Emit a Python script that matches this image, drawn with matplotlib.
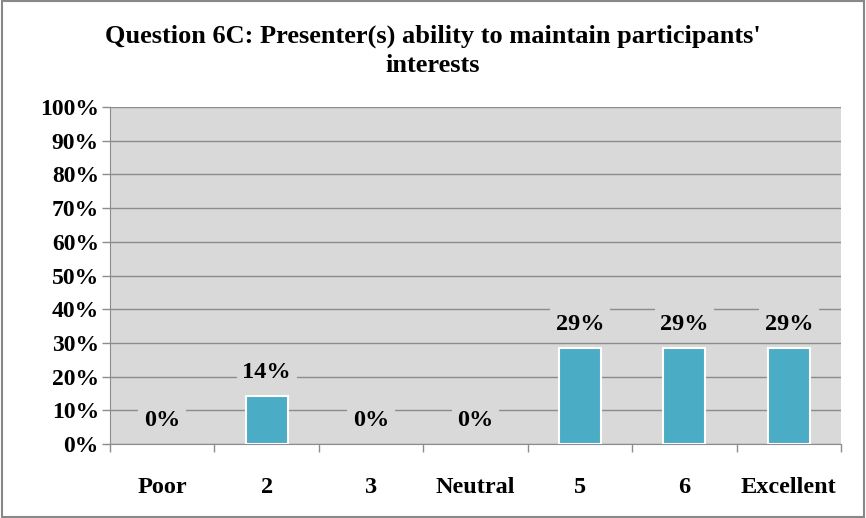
import matplotlib
matplotlib.use("Agg")
import matplotlib.pyplot as plt
from matplotlib.patches import Rectangle
import numpy as np

categories = ["Poor", "2", "3", "Neutral", "5", "6", "Excellent"]
values = [0.0, 14.3, 0.0, 0.0, 28.6, 28.6, 28.6]
labels = ["0%", "14%", "0%", "0%", "29%", "29%", "29%"]
yticks = list(range(0, 101, 10))
ytick_labels = [f"{t}%" for t in yticks]
title = "Question 6C: Presenter(s) ability to maintain participants'\ninterests"

plt.rcParams['font.family'] = ['Liberation Serif', 'DejaVu Serif']

fig = plt.figure(figsize=(8.66, 5.18), dpi=100)
fig.patches.append(Rectangle((0.002, 0.002), 0.996, 0.996, transform=fig.transFigure,
                             fill=False, edgecolor='#888888', linewidth=1.5))
ax = fig.add_axes([110/866, 1-444/518, (841-110)/866, (444-107)/518])
ax.set_facecolor('#d9d9d9')
x = np.arange(len(categories))
edge = ['white' if v > 0 else 'none' for v in values]
ax.bar(x, values, width=0.4, color='#4bacc6', edgecolor=edge, linewidth=1.5, zorder=3)
ax.set_xlim(-0.5, len(categories) - 0.5)
ax.set_ylim(0, 100)
ax.set_yticks(yticks)
ax.set_yticklabels(ytick_labels, fontsize=17, fontweight='bold')
ax.yaxis.grid(True, color='#8c8c8c', linewidth=1, zorder=0)
ax.set_axisbelow(True)
ax.set_xticks(np.arange(-0.5, len(categories), 1))
ax.set_xticklabels([])
ax.set_xticks(x, minor=True)
ax.set_xticklabels(categories, minor=True, fontsize=17.5, fontweight='bold')
ax.tick_params(axis='x', which='major', length=6, color='#8c8c8c', width=1)
ax.tick_params(axis='x', which='minor', length=0, pad=24)
ax.tick_params(axis='y', length=6, color='#8c8c8c', width=1, pad=2)
for s in ['top', 'right']:
    ax.spines[s].set_visible(False)
for s in ['left', 'bottom']:
    ax.spines[s].set_color('#8c8c8c')
for xi, v, lab in zip(x, values, labels):
    ax.text(xi, v + 7, lab, ha='center', va='center', fontsize=17.5, fontweight='bold',
            zorder=4, bbox=dict(facecolor='#d9d9d9', edgecolor='none', pad=4))
fig.text(0.5, 1 - 51/518, title, ha='center', va='center', fontsize=19, fontweight='bold',
         linespacing=1.35)
fig.savefig("out.png", dpi=100)
